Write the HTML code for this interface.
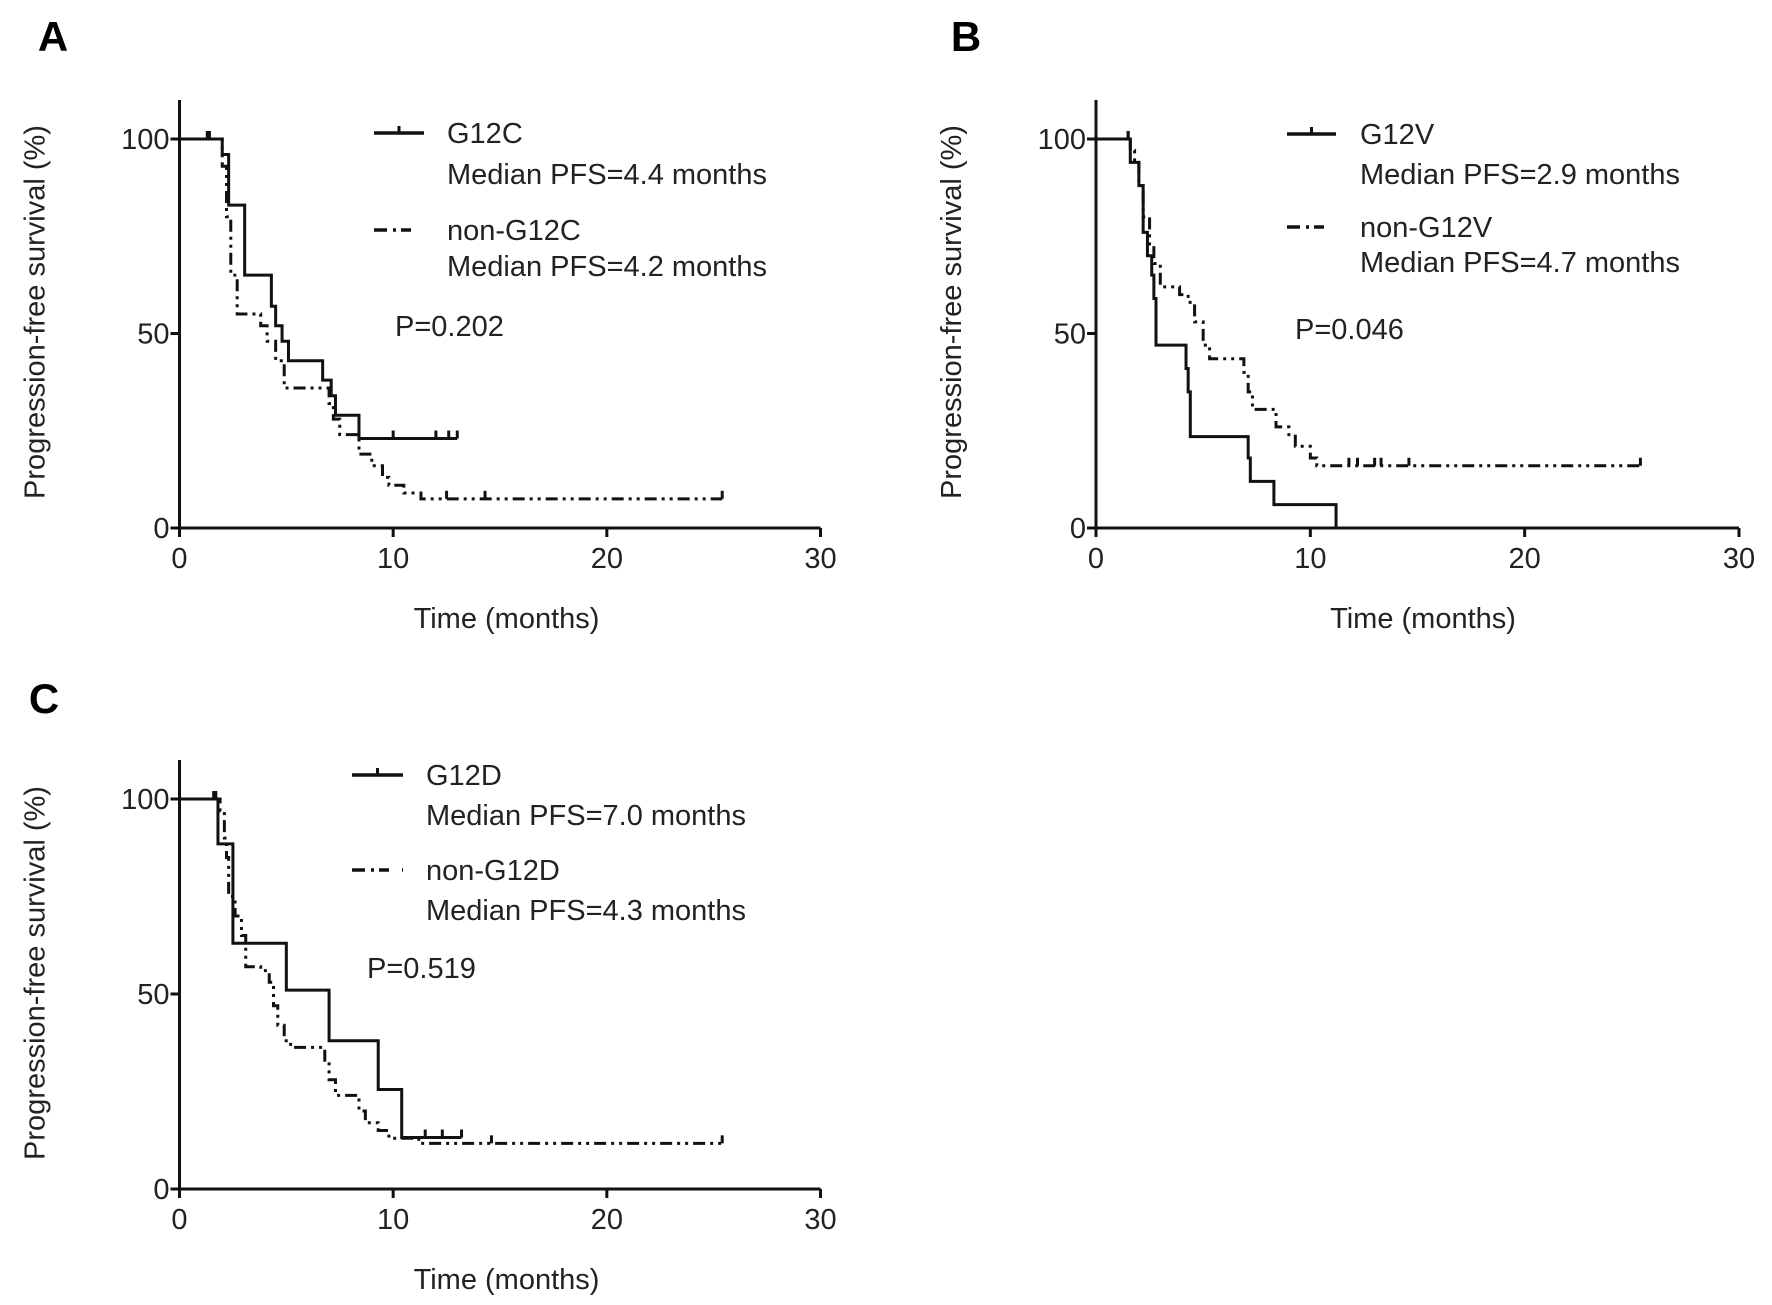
<!DOCTYPE html>
<html><head><meta charset="utf-8"><style>
html,body{margin:0;padding:0;background:#fff;}
svg{display:block;font-family:"Liberation Sans",Arial,sans-serif;}
</style></head><body>
<svg id="fig" width="1772" height="1305" viewBox="0 0 1772 1305" xmlns="http://www.w3.org/2000/svg"></svg>
<script>
// ---- Data (time in months, survival %) ----
const xTicks = [0, 10, 20, 30];
const yTicks = [0, 50, 100];

const aSolidT = [0, 2.0, 2.3, 3.05, 4.3, 4.5, 4.8, 5.1, 6.7, 7.1, 7.3, 8.4, 13.0];
const aSolidS = [100, 96, 83, 65, 57, 52, 48, 43, 38, 34, 29, 23, 23];
const aSolidC = [1.4, 10.0, 12.0, 12.6, 13.0];
const aDashT = [0, 2.0, 2.2, 2.4, 2.7, 3.8, 4.1, 4.5, 4.9, 7.0, 7.2, 7.5, 8.4, 9.0, 9.5, 9.8, 10.5, 11.3, 25.4];
const aDashS = [100, 93, 80, 65, 55, 52, 48, 43, 36, 32, 28, 24, 19, 16, 13, 11, 9, 7.5, 7.5];
const aDashC = [1.3, 12.5, 14.3, 25.4];

const bSolidT = [0, 1.6, 2.0, 2.2, 2.4, 2.6, 2.7, 2.8, 4.2, 4.3, 4.4, 7.1, 7.2, 8.3, 11.2];
const bSolidS = [100, 94, 88, 76, 70, 65, 59, 47, 41, 35, 23.5, 18, 12, 6, 0];
const bSolidC = [1.5];
const bDashT = [0, 1.6, 1.8, 2.0, 2.2, 2.5, 2.7, 3.0, 3.9, 4.3, 4.6, 5.0, 5.3, 6.9, 7.1, 7.3, 8.4, 9.0, 9.3, 10.0, 10.3, 25.4];
const bDashS = [100, 97, 94, 88, 80, 73, 68, 62, 60, 58, 53, 47, 43.5, 40, 35, 30.5, 26, 24, 21, 18, 16, 16];
const bDashC = [1.5, 11.8, 12.2, 13.0, 13.3, 14.6, 25.4];

const cSolidT = [0, 1.8, 2.5, 5.0, 7.0, 9.3, 10.4, 13.2];
const cSolidS = [100, 88.5, 63, 51, 38, 25.5, 13.2, 13.2];
const cSolidC = [1.6, 11.5, 12.3, 13.2];
const cDashT = [0, 1.9, 2.1, 2.2, 2.3, 2.6, 2.9, 3.1, 3.8, 4.2, 4.4, 4.6, 4.9, 5.2, 6.8, 7.0, 7.3, 8.4, 8.7, 9.3, 9.8, 11.2, 25.4];
const cDashS = [100, 97, 90, 85, 75, 70, 65, 57, 56, 53, 47, 42, 38, 36.3, 33, 28, 24, 20, 17, 15, 13, 11.7, 11.7];
const cDashC = [1.7, 2.6, 14.6, 25.4];

const FS = 29;
const panels = [
  {id:'a', letter:'A', lx:53, ly:51, ox:179.5, oy:528, w:641, h:389, topY:100,
   solidT:aSolidT, solidS:aSolidS, solidC:aSolidC, dashT:aDashT, dashS:aDashS, dashC:aDashC,
   leg:{x1:374,x2:424,tx:447,y1:133,y2:174,y3:230,y4:266},
   names:['G12C','Median PFS=4.4 months','non-G12C','Median PFS=4.2 months'], p:'P=0.202', px:395, py:336},
  {id:'b', letter:'B', lx:966, ly:51, ox:1096, oy:528, w:643, h:389, topY:100,
   solidT:bSolidT, solidS:bSolidS, solidC:bSolidC, dashT:bDashT, dashS:bDashS, dashC:bDashC,
   leg:{x1:1287,x2:1336,tx:1360,y1:134,y2:174,y3:227,y4:262},
   names:['G12V','Median PFS=2.9 months','non-G12V','Median PFS=4.7 months'], p:'P=0.046', px:1295, py:339},
  {id:'c', letter:'C', lx:44, ly:713, ox:179.5, oy:1189, w:641, h:390, topY:760,
   solidT:cSolidT, solidS:cSolidS, solidC:cSolidC, dashT:cDashT, dashS:cDashS, dashC:cDashC,
   leg:{x1:352,x2:403,tx:426,y1:775,y2:815,y3:870,y4:910},
   names:['G12D','Median PFS=7.0 months','non-G12D','Median PFS=4.3 months'], p:'P=0.519', px:367, py:978}
];

const NS = 'http://www.w3.org/2000/svg';
const svg = document.getElementById('fig');
function mk(tag, attrs, parent){
  const e = document.createElementNS(NS, tag);
  for (const k in attrs) e.setAttribute(k, attrs[k]);
  (parent||svg).appendChild(e);
  return e;
}
function txt(s, attrs, parent){ const t = mk('text', attrs, parent); t.textContent = s; return t; }

panels.forEach(P => {
  const g = mk('g', {});
  
  
  const xs = v => P.ox + v / 30 * P.w;
  const ys = v => P.oy - v / 100 * P.h;

  const L = txt(P.letter, {x:P.lx, y:P.ly, 'font-size':42, 'font-weight':'bold', 'text-anchor':'middle'}, g);
  
  

  const ax = mk('path', {d:`M${P.ox} ${P.topY} V${P.oy} H${xs(30)}`, fill:'none', stroke:'#111', 'stroke-width':3}, g);
  
  
  xTicks.forEach(t => {
    const tk = mk('line', {x1:xs(t), x2:xs(t), y1:P.oy, y2:P.oy+9, stroke:'#111', 'stroke-width':3}, g);
    
    
    const lb = txt(String(t), {x:xs(t), y:P.oy+40, 'font-size':FS, 'text-anchor':'middle', fill:'#222'}, g);
    
    
  });
  yTicks.forEach(t => {
    const tk = mk('line', {x1:P.ox-9, x2:P.ox, y1:ys(t), y2:ys(t), stroke:'#111', 'stroke-width':3}, g);
    
    
    const lb = txt(String(t), {x:P.ox-10, y:ys(t)+10, 'font-size':FS, 'text-anchor':'end', fill:'#222'}, g);
    
    
  });
  const xt = txt('Time (months)', {x:P.ox + 327, y:P.oy + 100, 'font-size':FS, 'text-anchor':'middle', fill:'#222'}, g);
  
  
  const cy = P.oy - 216, cx = P.ox - 135;
  const yt = txt('Progression-free survival (%)', {x:cx, y:cy, 'font-size':FS, 'text-anchor':'middle', fill:'#222', transform:`rotate(-90 ${cx} ${cy})`}, g);
  
  

  function stepPath(T, S){
    let d = `M${xs(T[0])} ${ys(S[0])}`;
    for (let i = 1; i < T.length; i++){
      d += ` H${xs(T[i])} V${ys(S[i])}`;
    }
    return d;
  }
  function survAt(T, S, t){
    let s = S[0];
    for (let i = 0; i < T.length; i++) if (T[i] <= t) s = S[i];
    return s;
  }
  const ds = mk('path', {d:stepPath(P.dashT, P.dashS), fill:'none', stroke:'#111', 'stroke-width':3, 'stroke-dasharray':'12 5 3 5 3 5'}, g);
  
  
  const so = mk('path', {d:stepPath(P.solidT, P.solidS), fill:'none', stroke:'#111', 'stroke-width':3}, g);
  
  
  P.solidC.forEach(t => {
    const y = ys(survAt(P.solidT, P.solidS, t));
    const c = mk('line', {x1:xs(t), x2:xs(t), y1:y-8, y2:y, stroke:'#111', 'stroke-width':3}, g);
    
    
  });
  P.dashC.forEach(t => {
    const y = ys(survAt(P.dashT, P.dashS, t));
    const c = mk('line', {x1:xs(t), x2:xs(t), y1:y-8, y2:y, stroke:'#111', 'stroke-width':3}, g);
    
    
  });

  const Lg = P.leg;
  const l1 = mk('line', {x1:Lg.x1, x2:Lg.x2, y1:Lg.y1, y2:Lg.y1, stroke:'#111', 'stroke-width':3.5}, g);
  
  
  const l1t = mk('line', {x1:(Lg.x1+Lg.x2)/2, x2:(Lg.x1+Lg.x2)/2, y1:Lg.y1-7, y2:Lg.y1, stroke:'#111', 'stroke-width':3}, g);
  
  
  const l2 = mk('line', {x1:Lg.x1, x2:Lg.x2, y1:Lg.y3, y2:Lg.y3, stroke:'#111', 'stroke-width':3.5, 'stroke-dasharray':'13 6 3 5 10'}, g);
  
  
  const ys4 = [Lg.y1, Lg.y2, Lg.y3, Lg.y4];
  P.names.forEach((n, i) => {
    const t = txt(n, {x:Lg.tx, y:ys4[i]+10, 'font-size':FS, fill:'#222'}, g);
    
    
  });
  const pv = txt(P.p, {x:P.px, y:P.py, 'font-size':FS, fill:'#222'}, g);
  
  
});
</script>
</body></html>
